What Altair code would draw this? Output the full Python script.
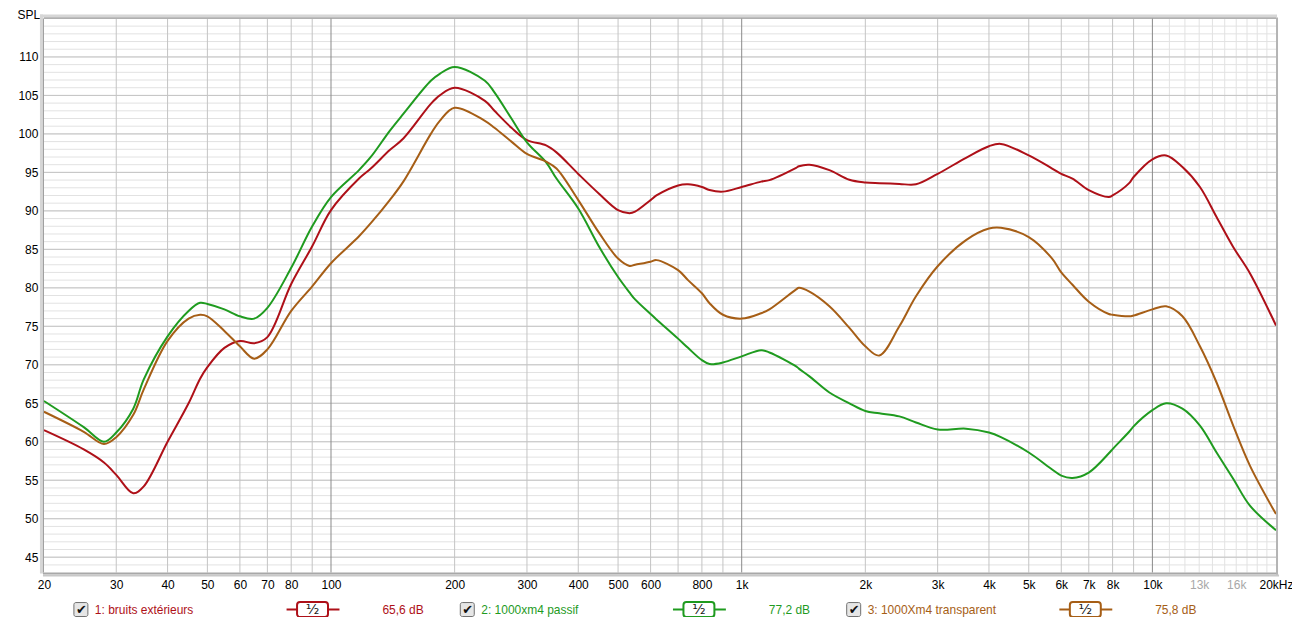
import altair as alt
import pandas as pd

# ---------------- data ----------------
freqs = [20, 25, 28, 30, 33, 35, 40, 45, 48, 50, 55, 60, 65, 70, 80, 90, 100, 117, 125, 139,
         150, 175, 184, 200, 237, 250, 275, 300, 334, 354, 400, 450, 500, 533, 550, 600, 620,
         700, 740, 800, 835, 900, 1000, 1115, 1168, 1357, 1378, 1462, 1635, 1829, 2000, 2163,
         2420, 2657, 3000, 3517, 4000, 4277, 5000, 5700, 6000, 6389, 7000, 7834, 8000, 8778,
         9000, 10000, 10800, 11836, 13055, 14330, 15730, 17275, 20000]

red_db = [61.5, 59.0, 57.3, 55.7, 53.3, 54.2, 60.0, 65.0, 68.2, 69.7, 72.2, 73.1, 72.8, 73.6,
          80.5, 85.4, 90.1, 94.2, 95.5, 97.9, 99.4, 103.9, 105.0, 106.0, 104.3, 103.0, 100.8,
          99.2, 98.5, 97.6, 94.8, 92.2, 90.1, 89.7, 89.9, 91.4, 92.0, 93.3, 93.45, 93.1, 92.7,
          92.5, 93.1, 93.8, 94.0, 95.6, 95.8, 96.0, 95.3, 94.05, 93.7, 93.6, 93.5, 93.45, 94.8,
          96.9, 98.4, 98.7, 97.2, 95.5, 94.8, 94.2, 92.7, 91.8, 92.0, 93.6, 94.4, 96.7, 97.2,
          95.7, 93.1, 89.2, 85.3, 81.9, 75.1]

green_db = [65.3, 61.9, 60.0, 61.2, 64.3, 68.1, 73.7, 77.0, 78.05, 77.9, 77.2, 76.3, 76.0, 77.4,
            82.6, 88.0, 91.8, 95.3, 97.0, 100.4, 102.6, 106.9, 107.8, 108.7, 106.9, 105.4, 102.0,
            98.9, 96.3, 94.2, 90.3, 85.3, 81.4, 79.4, 78.5, 76.6, 75.9, 73.4, 72.2, 70.6, 70.1,
            70.3, 71.1, 71.9, 71.6, 69.8, 69.5, 68.5, 66.4, 65.0, 64.0, 63.7, 63.3, 62.5, 61.6,
            61.7, 61.2, 60.6, 58.6, 56.4, 55.6, 55.3, 56.0, 58.5, 59.05, 61.3, 62.0, 64.1, 65.0,
            64.3, 62.1, 58.6, 55.2, 51.7, 48.5]

brown_db = [63.9, 61.3, 59.7, 60.6, 63.5, 66.8, 73.1, 76.0, 76.5, 76.3, 74.4, 72.4, 70.8, 72.0,
            77.0, 80.2, 83.2, 86.7, 88.4, 91.4, 93.8, 100.0, 101.7, 103.4, 101.7, 100.8, 99.0,
            97.4, 96.4, 95.5, 91.4, 87.1, 83.8, 82.85, 83.0, 83.4, 83.6, 82.3, 81.0, 79.3, 78.0,
            76.5, 76.0, 76.7, 77.2, 79.8, 80.0, 79.5, 77.6, 74.8, 72.4, 71.2, 75.0, 78.9, 82.8,
            86.2, 87.7, 87.8, 86.6, 83.8, 82.0, 80.4, 78.2, 76.6, 76.5, 76.3, 76.4, 77.2, 77.6,
            76.3, 72.4, 67.7, 62.1, 56.9, 50.6]

series_names = ["1: bruits extérieurs", "2: 1000xm4 passif", "3: 1000Xm4 transparent"]
series_levels = ["65,6 dB", "77,2 dB", "75,8 dB"]
series_colors = ["#AE1018", "#1F9B1F", "#A65E16"]

x_label_values = [20, 30, 40, 50, 60, 70, 80, 100, 200, 300, 400, 500, 600, 800, 1000, 2000,
                  3000, 4000, 5000, 6000, 7000, 8000, 10000, 13000, 16000, 20000]
y_label_values = [45, 50, 55, 60, 65, 70, 75, 80, 85, 90, 95, 100, 105, 110]

grid_x_minor = [30, 40, 50, 60, 70, 80, 90, 200, 300, 400, 500, 600, 700, 800, 900,
                2000, 3000, 4000, 5000, 6000, 7000, 8000, 9000]
grid_x_major = [100, 1000, 10000]
grid_x_fine = [11000, 12000, 13000, 14000, 15000, 16000, 17000, 18000, 19000]
grid_y_minor = list(range(44, 116))
grid_y_major = list(range(45, 116, 5))

# ---------------- build ----------------
FONT = "Liberation Sans"
W, H = 1234, 555
xscale = alt.Scale(type="log", domain=[20, 20000], nice=False)
yscale = alt.Scale(domain=[43, 115], nice=False, zero=False)

rows = []
for name, vals in zip(series_names, [red_db, green_db, brown_db]):
    for f, v in zip(freqs, vals):
        rows.append({"f": f, "db": v, "series": name})
df = pd.DataFrame(rows)

x_axis = alt.Axis(
    values=x_label_values,
    labelExpr="datum.value == 20000 ? '20kHz' : (datum.value >= 1000 ? (datum.value / 1000) + 'k' : '' + datum.value)",
    labelColor={"condition": {"test": "datum.value == 13000 || datum.value == 16000", "value": "#A8A8A8"},
                "value": "#000000"},
    labelOverlap=False, labelFlush=False, labelBound=False,
    ticks=False, domain=False, grid=False, labelPadding=7,
    labelFont=FONT, labelFontSize=12, title=None)

y_axis = alt.Axis(
    values=y_label_values, labelOverlap=False, labelFlush=False,
    ticks=False, domain=False, grid=False, labelPadding=6,
    labelFont=FONT, labelFontSize=12, labelColor="#000000",
    title="SPL", titleAngle=0, titleAlign="left", titleBaseline="top",
    titleX=-27, titleY=-9, titleFont=FONT, titleFontSize=12, titleFontWeight="normal",
    titleColor="#000000")


def vgrid(vals, color, width=1):
    return alt.Chart(pd.DataFrame({"g": vals})).mark_rule(color=color, strokeWidth=width).encode(
        x=alt.X("g:Q", scale=xscale, axis=x_axis))


def hgrid(vals, color):
    return alt.Chart(pd.DataFrame({"g": vals})).mark_rule(color=color, strokeWidth=1).encode(
        y=alt.Y("g:Q", scale=yscale, axis=y_axis))


layers = [
    hgrid(grid_y_minor, "#E2E2E2"),
    vgrid(grid_x_fine, "#E2E2E2"),
    hgrid(grid_y_major, "#C4C4C4"),
    vgrid(grid_x_minor, "#C4C4C4"),
    vgrid(grid_x_major, "#8A8A8A"),
]

lines = alt.Chart(df).mark_line(strokeWidth=2, interpolate="catmull-rom").encode(
    x=alt.X("f:Q", scale=xscale, axis=x_axis),
    y=alt.Y("db:Q", scale=yscale, axis=y_axis),
    color=alt.Color("series:N", scale=alt.Scale(domain=series_names, range=series_colors), legend=None),
    detail="series:N",
)

one = pd.DataFrame({"a": [0]})

# frame
frame = [
    alt.Chart(one).mark_rule(color="#D6D6D6", strokeWidth=3).encode(
        x=alt.value(-2.5), y=alt.value(-4), y2=alt.value(H + 1)),
    alt.Chart(one).mark_rule(color="#D6D6D6", strokeWidth=3).encode(
        x=alt.value(-4), x2=alt.value(W + 1), y=alt.value(-2.5)),
    alt.Chart(one).mark_rule(color="#9A9A9A", strokeWidth=1).encode(
        x=alt.value(-0.5), y=alt.value(0), y2=alt.value(H)),
    alt.Chart(one).mark_rule(color="#9A9A9A", strokeWidth=1).encode(
        x=alt.value(0), x2=alt.value(W), y=alt.value(-0.5)),
    alt.Chart(one).mark_rule(color="#A8A8A8", strokeWidth=2).encode(
        x=alt.value(-1), x2=alt.value(W + 2), y=alt.value(H + 1)),
    alt.Chart(one).mark_rule(color="#C8C8C8", strokeWidth=2).encode(
        x=alt.value(-1), x2=alt.value(W + 3), y=alt.value(H + 3)),
    alt.Chart(one).mark_rule(color="#B4B4B4", strokeWidth=2).encode(
        x=alt.value(W + 1), y=alt.value(-1), y2=alt.value(H + 2)),
]

# custom legend row
leg = []
LY = 592
for i, (name, lvl, col) in enumerate(zip(series_names, series_levels, series_colors)):
    cx = 37 + 387 * i
    leg += [
        alt.Chart(one).mark_rect(fill="#E6E6E6", stroke="#6E6E6E", strokeWidth=1, cornerRadius=2).encode(
            x=alt.value(cx - 7), x2=alt.value(cx + 7), y=alt.value(LY - 7), y2=alt.value(LY + 7)),
        alt.Chart(one).mark_text(text="✔", font="DejaVu Sans", fontSize=13, color="#111111",
                                 align="center", baseline="middle").encode(
            x=alt.value(cx + 0.5), y=alt.value(LY)),
        alt.Chart(one).mark_text(text=name, font=FONT, fontSize=12, color=col,
                                 align="left", baseline="middle").encode(
            x=alt.value(cx + 14), y=alt.value(LY)),
        alt.Chart(one).mark_rule(color=col, strokeWidth=2).encode(
            x=alt.value(cx + 206), x2=alt.value(cx + 259), y=alt.value(LY)),
        alt.Chart(one).mark_rect(fill="#FFFFFF", stroke=col, strokeWidth=2, cornerRadius=3).encode(
            x=alt.value(cx + 216.5), x2=alt.value(cx + 247.5), y=alt.value(LY - 7.5), y2=alt.value(LY + 7.5)),
        alt.Chart(one).mark_text(text="¹⁄₂", font="DejaVu Sans", fontSize=14, color="#1A1A1A",
                                 align="center", baseline="middle").encode(
            x=alt.value(cx + 232), y=alt.value(LY)),
        alt.Chart(one).mark_text(text=lvl, font=FONT, fontSize=12, color=col,
                                 align="left", baseline="middle").encode(
            x=alt.value(cx + 302), y=alt.value(LY)),
    ]

chart = alt.layer(*layers, lines, *frame, *leg).properties(
    width=W, height=H,
    padding={"left": 36, "top": 10, "right": 16, "bottom": 44},
    autosize=alt.AutoSizeParams(type="none"),
    background="#FFFFFF",
).configure_view(stroke=None)

chart.save("out.html", embed_options={"renderer": "svg", "actions": False})
